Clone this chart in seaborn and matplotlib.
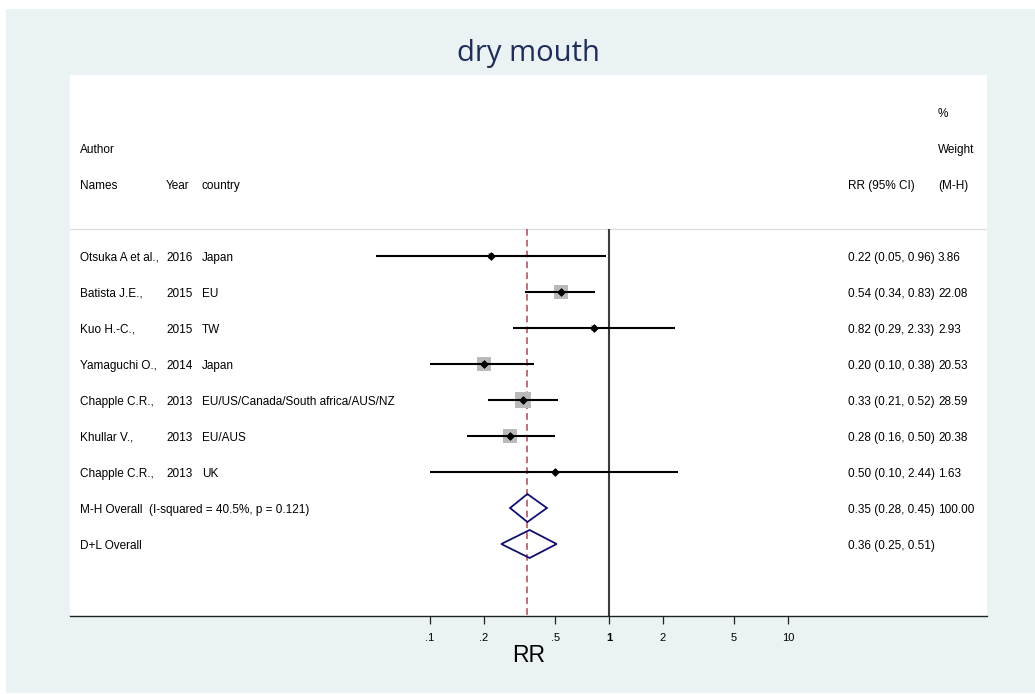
import matplotlib
matplotlib.use("Agg")
import matplotlib.pyplot as plt
import matplotlib.transforms as mtransforms
from matplotlib.patches import Rectangle, Polygon
import numpy as np
import pandas as pd
import seaborn as sns

# ---------------- data ----------------
authors = ["Otsuka A et al.,", "Batista J.E.,", "Kuo H.-C.,", "Yamaguchi O.,",
           "Chapple C.R.,", "Khullar V.,", "Chapple C.R.,"]
years = ["2016", "2015", "2015", "2014", "2013", "2013", "2013"]
countries = ["Japan", "EU", "TW", "Japan", "EU/US/Canada/South africa/AUS/NZ",
             "EU/AUS", "UK"]
rr = [0.22, 0.54, 0.82, 0.20, 0.33, 0.28, 0.50]
ci_low = [0.05, 0.34, 0.29, 0.10, 0.21, 0.16, 0.10]
ci_high = [0.96, 0.83, 2.33, 0.38, 0.52, 0.50, 2.44]
weights = [3.86, 22.08, 2.93, 20.53, 28.59, 20.38, 1.63]

pooled_labels = ["M-H Overall  (I-squared = 40.5%, p = 0.121)", "D+L Overall"]
pooled_rr = [0.35, 0.36]
pooled_low = [0.28, 0.25]
pooled_high = [0.45, 0.51]
pooled_weight = ["100.00", ""]

tick_values = [0.1, 0.2, 0.5, 1, 2, 5, 10]
tick_labels = [".1", ".2", ".5", "1", "2", "5", "10"]

title = "dry mouth"
xlabel = "RR"

# ---------------- layout ----------------
W, H = 1035, 694
fig = plt.figure(figsize=(W / 100, H / 100), dpi=100)
fig.patch.set_facecolor("white")
bg = Rectangle((6 / W, 1 - 693 / H), (W - 6) / W, (693 - 9) / H,
               transform=fig.transFigure, facecolor="#EAF2F3",
               edgecolor="none", zorder=-10)
fig.patches.append(bg)

ax_l, ax_r, ax_t, ax_b = 70, 987, 75, 616
ax = fig.add_axes([ax_l / W, 1 - ax_b / H, (ax_r - ax_l) / W, (ax_b - ax_t) / H])
ax.set_zorder(5)
ax.set_facecolor("white")

# x scale: log, 1 decade = 179 px, x=1 at 609 px
px1, dec = 609, 179.0
ax.set_xscale("log")
ax.set_xlim(10 ** ((ax_l - px1) / dec), 10 ** ((ax_r - px1) / dec))
# y: row index, row 0 at 112 px, 36 px per row
row0, step = 112, 36.0
ax.set_ylim((ax_b - row0) / step, (ax_t - row0) / step)

def fx(px):
    return (px - ax_l) / (ax_r - ax_l)

trans = mtransforms.blended_transform_factory(ax.transAxes, ax.transData)

FONT = "Liberation Sans"
fs = 8.5
VA = "center_baseline"

# header
hdr = [(0, 938, "%"), (1, 80, "Author"), (1, 938, "Weight"),
       (2, 80, "Names"), (2, 166, "Year"), (2, 202, "country"),
       (2, 848, "RR (95% CI)"), (2, 938, "(M-H)")]
for r, px, s in hdr:
    ax.text(fx(px), r, s, transform=trans, ha="left", va=VA,
            fontsize=fs, family=FONT, color="black")

first = 4
study_rows = [first + i for i in range(len(authors))]
pooled_rows = [first + len(authors) + i for i in range(len(pooled_rr))]

# light grey separator and reference lines
sep_y = (229 - row0) / step
ax.axhline(sep_y, color="#dedede", lw=0.9, zorder=1)
ax.vlines(1, sep_y, (ax_b - row0) / step, color="#3c3c3c", lw=1.5, zorder=2)
ax.vlines(pooled_rr[0], sep_y, (ax_b - row0) / step, color="#b0585e", lw=1.2,
          linestyles=(0, (4, 2.5)), zorder=2)

df = pd.DataFrame({"rr": rr, "row": study_rows, "w": weights})
# weight boxes (area proportional to weight)
sns.scatterplot(data=df, x="rr", y="row", size="w",
                sizes=(4.67 * min(weights), 4.67 * max(weights)),
                size_norm=(min(weights), max(weights)), marker="s", color="#b9b9b9",
                edgecolor="none", legend=False, ax=ax, zorder=3)
# CI lines
ax.hlines(study_rows, ci_low, ci_high, color="black", lw=1.5, zorder=4)
# point estimates
sns.scatterplot(data=df, x="rr", y="row", marker="D", s=15, color="black",
                edgecolor="black", linewidth=0.6, legend=False, ax=ax, zorder=5)

# pooled diamonds
hh = 14 / step
for r, m, lo, hi in zip(pooled_rows, pooled_rr, pooled_low, pooled_high):
    ax.add_patch(Polygon([(lo, r), (m, r - hh), (hi, r), (m, r + hh)], closed=True,
                         facecolor="none", edgecolor="#10106e", lw=1.3, zorder=6))

# study text
for r, a, y_, c, m, lo, hi, w in zip(study_rows, authors, years, countries, rr,
                                     ci_low, ci_high, weights):
    ax.text(fx(80), r, a, transform=trans, ha="left", va=VA, fontsize=fs, family=FONT)
    ax.text(fx(166), r, y_, transform=trans, ha="left", va=VA, fontsize=fs, family=FONT)
    ax.text(fx(202), r, c, transform=trans, ha="left", va=VA, fontsize=fs, family=FONT)
    ax.text(fx(848), r, f"{m:.2f} ({lo:.2f}, {hi:.2f})", transform=trans, ha="left",
            va=VA, fontsize=fs, family=FONT)
    ax.text(fx(938), r, f"{w:.2f}", transform=trans, ha="left", va=VA,
            fontsize=fs, family=FONT)

for r, lab, m, lo, hi, w in zip(pooled_rows, pooled_labels, pooled_rr, pooled_low,
                                pooled_high, pooled_weight):
    ax.text(fx(80), r, lab, transform=trans, ha="left", va=VA, fontsize=fs, family=FONT)
    ax.text(fx(848), r, f"{m:.2f} ({lo:.2f}, {hi:.2f})", transform=trans, ha="left",
            va=VA, fontsize=fs, family=FONT)
    if w:
        ax.text(fx(938), r, w, transform=trans, ha="left", va=VA, fontsize=fs, family=FONT)

# axes styling
for sp in ["top", "left", "right"]:
    ax.spines[sp].set_visible(False)
ax.spines["bottom"].set_color("#222222")
ax.spines["bottom"].set_linewidth(1.0)
ax.set_yticks([])
ax.set_xticks(tick_values)
ax.set_xticklabels(tick_labels, family=FONT, fontsize=8)
for t, v in zip(ax.get_xticklabels(), tick_values):
    if v == 1:
        t.set_fontweight("bold")
ax.minorticks_off()
ax.tick_params(axis="x", length=6, width=0.9, color="#222222", pad=6)
ax.set_xlabel(xlabel, family=FONT, fontsize=16.5, labelpad=1)
ax.set_ylabel("")

fig.text(528 / W, 1 - 54 / H, title, ha="center", va="center", fontsize=21,
         family="Open Sans", color="#1f2d59")

fig.savefig("out.png", dpi=100, facecolor=fig.get_facecolor())
